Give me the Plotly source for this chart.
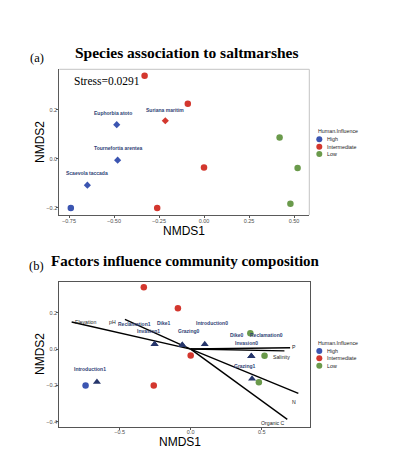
import plotly.graph_objects as go

# ---------------- data ----------------
site_nmds1 = [-0.74, -0.33, -0.09, 0.00, -0.26, 0.42, 0.52, 0.48]
site_nmds2 = [-0.20, 0.34, 0.225, -0.035, -0.20, 0.087, -0.037, -0.183]
site_influence = ["High", "Intermediate", "Intermediate", "Intermediate",
                  "Intermediate", "Low", "Low", "Low"]

influence_levels = ["High", "Intermediate", "Low"]

species_names = ["Euphorbia atoto", "Suriana maritim", "Tournefortia arentea", "Scaevola taccada"]
species_nmds1 = [-0.485, -0.215, -0.48, -0.648]
species_nmds2 = [0.14, 0.156, -0.005, -0.107]
species_influence = ["High", "Intermediate", "High", "High"]

factor_names = ["Introduction1", "Reclamation1", "Invasion1", "Dike1", "Grazing0",
                "Introduction0", "Dike0", "Reclamation0", "Invasion0", "Grazing1"]
factor_nmds1 = [-0.66, -0.254, -0.254, -0.059, -0.059, 0.099, 0.427, 0.427, 0.427, 0.432]
factor_nmds2 = [-0.182, 0.026, 0.026, 0.022, 0.022, 0.026, -0.039, -0.039, -0.039, -0.163]

env_names = ["Elevation", "pH", "P", "Salinity", "N", "Organic C"]
env_nmds1 = [-0.838, -0.463, 0.70, 0.66, 0.758, 0.68]
env_nmds2 = [0.149, 0.163, 0.007, -0.010, -0.244, -0.387]

stress_value = 0.0291

xticks_a = [-0.75, -0.50, -0.25, 0.00, 0.25, 0.50]
yticks_a = [-0.2, 0.0, 0.2]
xticks_b = [-0.5, 0.0, 0.5]
yticks_b = [-0.4, -0.2, 0.0, 0.2]

# ---------------- styles / layout positions ----------------
W, H = 396, 460
colors = {"High": "#3b55b1", "Intermediate": "#d3372e", "Low": "#6a9a4b"}
navy = "#26366b"
label_navy = "#2f3f75"
SANS = "Liberation Sans, Arial, sans-serif"
SERIF = "Liberation Serif, Times New Roman, serif"

# label offsets (pixels) for species text
species_dx = [-4, 0, 0, 0]
species_dy = [12, 11, 12, 12]
# factor label positions (data coords, repelled text)
factor_label_x = [-0.709, -0.397, -0.298, -0.19, -0.012, 0.150, 0.329, 0.535, 0.39, 0.385]
factor_label_y = [-0.108, 0.138, 0.101, 0.141, 0.097, 0.145, 0.075, 0.075, 0.035, -0.094]
env_label_x = [-0.744, -0.55, 0.728, 0.636, 0.725, 0.577]
env_label_y = [0.147, 0.150, 0.013, -0.042, -0.292, -0.405]


def px(x):
    return x / W


def py(y):
    return 1 - y / H


dom_a_x = [px(59.3), px(309.3)]
dom_a_y = [py(215.0), py(69.3)]
dom_b_x = [px(59.3), px(310.0)]
dom_b_y = [py(426.7), py(281.7)]

fig = go.Figure()

# ---- panel (a) ----
for lev in influence_levels:
    xs = [x for x, g in zip(site_nmds1, site_influence) if g == lev]
    ys = [y for y, g in zip(site_nmds2, site_influence) if g == lev]
    fig.add_trace(go.Scatter(x=xs, y=ys, mode="markers", xaxis="x", yaxis="y",
                             marker=dict(color=colors[lev], size=6.5, line=dict(width=0)),
                             showlegend=False, hoverinfo="skip"))
for lev in influence_levels:
    xs = [x for x, g in zip(species_nmds1, species_influence) if g == lev]
    ys = [y for y, g in zip(species_nmds2, species_influence) if g == lev]
    if xs:
        fig.add_trace(go.Scatter(x=xs, y=ys, mode="markers", xaxis="x", yaxis="y",
                                 marker=dict(color=colors[lev], size=5.5, symbol="diamond",
                                             line=dict(width=0)),
                                 showlegend=False, hoverinfo="skip"))

# ---- panel (b) ----
vx, vy = [], []
for ex, ey in zip(env_nmds1, env_nmds2):
    vx += [0, ex, None]
    vy += [0, ey, None]
fig.add_trace(go.Scatter(x=vx, y=vy, mode="lines", xaxis="x2", yaxis="y2",
                         line=dict(color="black", width=1.4),
                         showlegend=False, hoverinfo="skip"))
for lev in influence_levels:
    xs = [x for x, g in zip(site_nmds1, site_influence) if g == lev]
    ys = [y for y, g in zip(site_nmds2, site_influence) if g == lev]
    fig.add_trace(go.Scatter(x=xs, y=ys, mode="markers", xaxis="x2", yaxis="y2",
                             marker=dict(color=colors[lev], size=6.5, line=dict(width=0)),
                             showlegend=False, hoverinfo="skip"))
fig.add_trace(go.Scatter(x=factor_nmds1, y=factor_nmds2, mode="markers", xaxis="x2", yaxis="y2",
                         marker=dict(color=navy, size=7, symbol="triangle-up", line=dict(width=0)),
                         showlegend=False, hoverinfo="skip"))

annotations = []
# species labels
for name, x, y, dx, dy in zip(species_names, species_nmds1, species_nmds2, species_dx, species_dy):
    annotations.append(dict(x=x, y=y, xref="x", yref="y", text=name, showarrow=False,
                            xshift=dx, yshift=dy,
                            font=dict(family=SANS, size=5, color=label_navy, weight="bold")))
# factor labels
for name, x, y in zip(factor_names, factor_label_x, factor_label_y):
    annotations.append(dict(x=x, y=y, xref="x2", yref="y2", text=name, showarrow=False,
                            font=dict(family=SANS, size=5, color=label_navy, weight="bold")))
# env labels
for name, x, y in zip(env_names, env_label_x, env_label_y):
    annotations.append(dict(x=x, y=y, xref="x2", yref="y2", text=name, showarrow=False,
                            font=dict(family=SANS, size=5.2, color="#222222")))
# stress
annotations.append(dict(x=px(71.5), y=py(80.7), xref="paper", yref="paper", xanchor="left",
                        yanchor="middle", text="Stress=%.4f" % stress_value, showarrow=False,
                        font=dict(family=SERIF, size=11.5, color="black")))
# titles
annotations.append(dict(x=px(186), y=py(52.7), xref="paper", yref="paper", xanchor="center",
                        yanchor="middle", text="Species association to saltmarshes", showarrow=False,
                        font=dict(family=SERIF, size=15.5, color="black", weight="bold")))
annotations.append(dict(x=px(185), y=py(260.7), xref="paper", yref="paper", xanchor="center",
                        yanchor="middle", text="Factors influence community composition", showarrow=False,
                        font=dict(family=SERIF, size=15, color="black", weight="bold")))
annotations.append(dict(x=px(36.7), y=py(58), xref="paper", yref="paper", xanchor="center",
                        yanchor="middle", text="(a)", showarrow=False,
                        font=dict(family=SERIF, size=12.5, color="black")))
annotations.append(dict(x=px(36.7), y=py(266), xref="paper", yref="paper", xanchor="center",
                        yanchor="middle", text="(b)", showarrow=False,
                        font=dict(family=SERIF, size=12.5, color="black")))
# axis titles
for (xc, yc, t, ang) in [(184, 231, "NMDS1", 0), (40, 142, "NMDS2", -90),
                         (180, 442, "NMDS1", 0), (40, 354, "NMDS2", -90)]:
    annotations.append(dict(x=px(xc), y=py(yc), xref="paper", yref="paper", xanchor="center",
                            yanchor="middle", text=t, showarrow=False, textangle=ang,
                            font=dict(family=SANS, size=12, color="black")))

shapes = []
# manual legends
for (ty, ys) in [(130.5, [139.3, 146.7, 154.0]), (342.7, [351.0, 358.3, 365.7])]:
    annotations.append(dict(x=px(315.5), y=py(ty), xref="paper", yref="paper", xanchor="left",
                            yanchor="middle", text="Human.Influence", showarrow=False,
                            font=dict(family=SANS, size=5.3, color="#222222")))
    for lev, yy in zip(influence_levels, ys):
        shapes.append(dict(type="circle", xref="paper", yref="paper",
                           x0=px(316.3), x1=px(322.3), y0=py(yy + 3), y1=py(yy - 3),
                           fillcolor=colors[lev], line=dict(width=0)))
        annotations.append(dict(x=px(325), y=py(yy), xref="paper", yref="paper", xanchor="left",
                                yanchor="middle", text=lev, showarrow=False,
                                font=dict(family=SANS, size=5.3, color="#222222")))

# panel (a) light top/right border
shapes.append(dict(type="line", xref="paper", yref="paper", x0=dom_a_x[0], x1=dom_a_x[1],
                   y0=dom_a_y[1], y1=dom_a_y[1], line=dict(color="#c4c4c4", width=1)))
shapes.append(dict(type="line", xref="paper", yref="paper", x0=dom_a_x[1], x1=dom_a_x[1],
                   y0=dom_a_y[0], y1=dom_a_y[1], line=dict(color="#c4c4c4", width=1)))

tickfont = dict(family=SANS, size=5.5, color="#4d4d4d")
common = dict(showgrid=False, zeroline=False, ticks="outside", ticklen=2, tickwidth=0.6,
              tickcolor="#555555", tickfont=tickfont, showline=True, linewidth=1,
              ticklabelstandoff=-2)

fig.update_layout(
    width=W, height=H, margin=dict(l=0, r=0, t=0, b=0),
    paper_bgcolor="white", plot_bgcolor="white", showlegend=False,
    xaxis=dict(domain=dom_a_x, range=[-0.804, 0.585], tickvals=xticks_a, tickformat=".2f",
               anchor="y", linecolor="#5a5a5a", mirror=False, **common),
    yaxis=dict(domain=dom_a_y, range=[-0.229, 0.366], tickvals=yticks_a, tickformat=".1f",
               anchor="x", linecolor="#5a5a5a", mirror=False, **common),
    xaxis2=dict(domain=dom_b_x, range=[-0.925, 0.840], tickvals=xticks_b, tickformat=".1f",
                anchor="y2", linecolor="#555555", mirror=True, **common),
    yaxis2=dict(domain=dom_b_y, range=[-0.4275, 0.371], tickvals=yticks_b, tickformat=".1f",
                anchor="x2", linecolor="#555555", mirror=True, **common),
    annotations=annotations, shapes=shapes,
)

fig.write_html("out.html", config={"displayModeBar": False},
               post_script="document.body.style.margin='0';document.body.style.overflow='hidden';")
